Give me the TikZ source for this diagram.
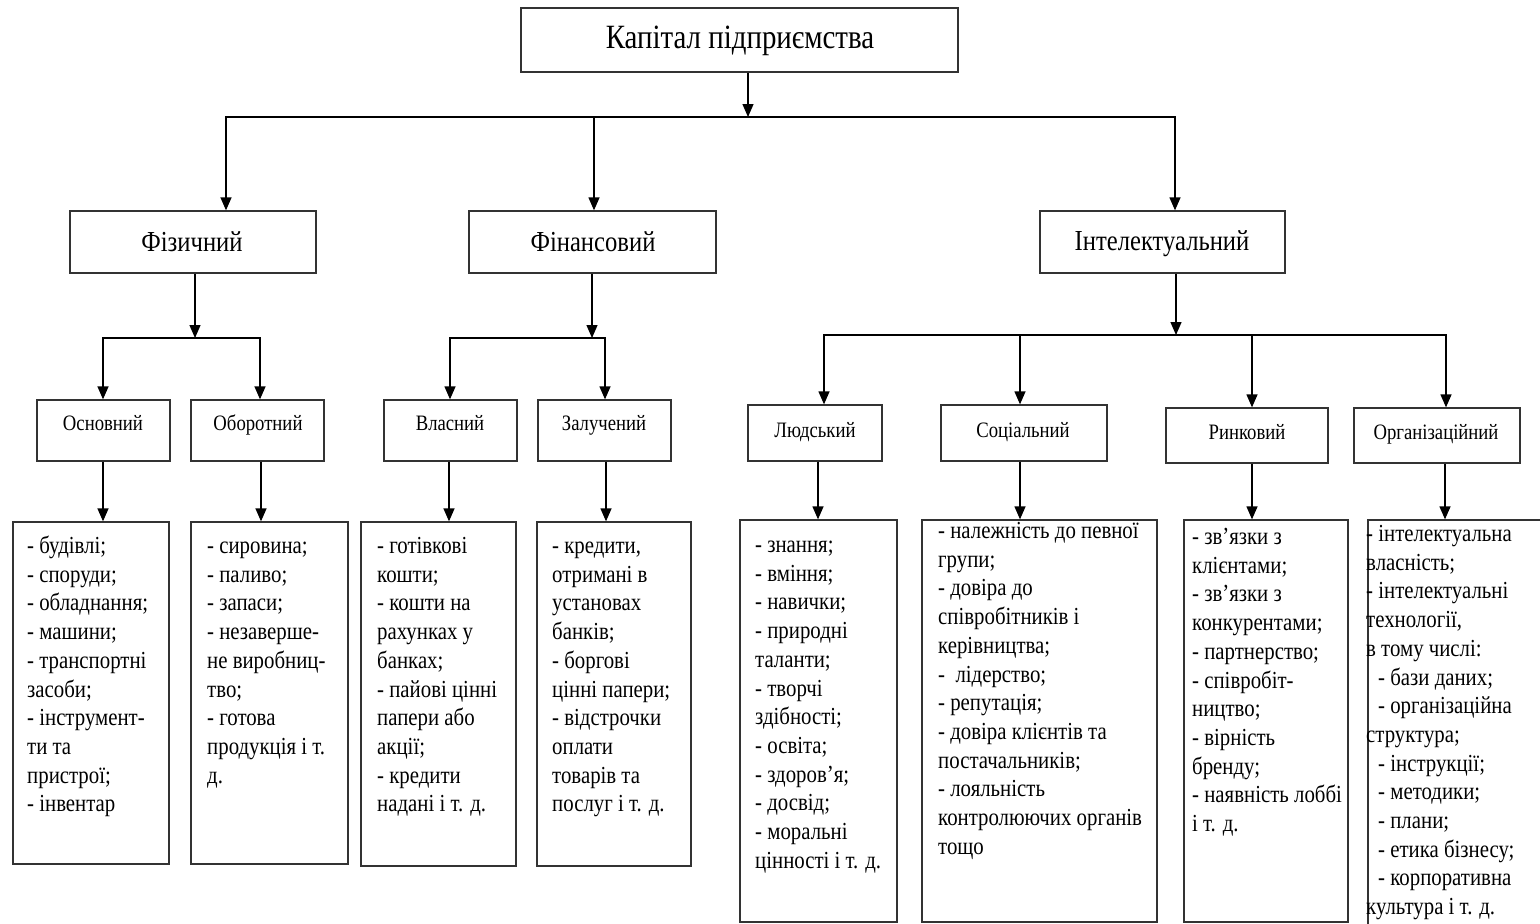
\documentclass[tikz,border=0pt]{standalone}
\usepackage{fontspec}
\setmainfont{Liberation Serif}[FakeStretch=0.85]
\usetikzlibrary{arrows.meta,calc}
\tikzset{
  box/.style={draw=black!80, line width=1.3pt, inner sep=0pt, fill=white},
  arr/.style={draw=black, line width=1.3pt, -{Triangle[length=13pt,width=11pt]}},
  ln/.style={draw=black, line width=1.3pt, line cap=rect},
  ttl/.style={inner sep=0pt, anchor=base, font=\fontsize{34}{40}\selectfont},
  lvtwo/.style={inner sep=0pt, anchor=base, font=\fontsize{29}{34}\selectfont},
  lvthree/.style={inner sep=0pt, anchor=base, font=\fontsize{22}{26}\selectfont},
  body/.style={inner sep=0pt, anchor=base west, font=\fontsize{24.5}{28.7}\selectfont},
}
\newcommand{\bodylines}[1]{\parbox[t]{260pt}{\raggedright #1}}
\begin{document}
\begin{tikzpicture}[x=1pt,y=-1pt]
\useasboundingbox (0,0) rectangle (1540,924);
\clip (0,0) rectangle (1540,924);
\fill[white] (0,0) rectangle (1540,924);

% level 1
\node[box, minimum width=437, minimum height=64] (top) at (739.5,40) {};
\node[ttl] (toptxt) at (740,48) {Капітал підприємства};

% level 2
\node[box, minimum width=246, minimum height=62] (fiz) at (193,242) {};
\node[box, minimum width=247, minimum height=62] (fin) at (592.5,242) {};
\node[box, minimum width=245, minimum height=62] (int) at (1162.5,242) {};
\node[lvtwo] (fiztxt) at (192,251) {Фізичний};
\node[lvtwo] (fintxt) at (593,251) {Фінансовий};
\node[lvtwo] (inttxt) at (1162,250) {Інтелектуальний};

% level 3
\node[box, minimum width=133, minimum height=61] (osn) at (103.5,430.5) {};
\node[box, minimum width=133, minimum height=61] (obo) at (257.5,430.5) {};
\node[box, minimum width=133, minimum height=61] (vla) at (450.5,430.5) {};
\node[box, minimum width=133, minimum height=61] (zal) at (604.5,430.5) {};
\node[box, minimum width=134, minimum height=56] (lyu) at (815,433) {};
\node[box, minimum width=166, minimum height=56] (soc) at (1024,433) {};
\node[box, minimum width=162, minimum height=55] (rin) at (1247,435.5) {};
\node[box, minimum width=166, minimum height=55] (org) at (1437,435.5) {};
\node[lvthree] (osntxt) at (103,430) {Основний};
\node[lvthree] (obotxt) at (258,430) {Оборотний};
\node[lvthree] (vlatxt) at (450,430) {Власний};
\node[lvthree] (zaltxt) at (604,430) {Залучений};
\node[lvthree] (lyutxt) at (815,437) {Людський};
\node[lvthree] (soctxt) at (1023,437) {Соціальний};
\node[lvthree] (rintxt) at (1247,439) {Ринковий};
\node[lvthree] (orgtxt) at (1436,439) {Організаційний};

% level 4 boxes
\node[box, minimum width=156, minimum height=342] (b1) at (91,693) {};
\node[box, minimum width=157, minimum height=342] (b2) at (269.5,693) {};
\node[box, minimum width=155, minimum height=344] (b3) at (438.5,694) {};
\node[box, minimum width=154, minimum height=344] (b4) at (614,694) {};
\node[box, minimum width=157, minimum height=402] (b5) at (818.5,721) {};
\node[box, minimum width=235, minimum height=402] (b6) at (1039.5,721) {};
\node[box, minimum width=164, minimum height=402] (b7) at (1266,721) {};
\node[box, minimum width=182, minimum height=410] (b8) at (1459,725) {};

\node[body] (t1) at (27,553.5) {\bodylines{- будівлі;\\- споруди;\\- обладнання;\\- машини;\\- транспортні\\засоби;\\- інструмент-\\ти та\\пристрої;\\- інвентар}};
\node[body] (t2) at (207,553.5) {\bodylines{- сировина;\\- паливо;\\- запаси;\\- незаверше-\\не виробниц-\\тво;\\- готова\\продукція і т.\\д.}};
\node[body] (t3) at (377,553.5) {\bodylines{- готівкові\\кошти;\\- кошти на\\рахунках у\\банках;\\- пайові цінні\\папери або\\акції;\\- кредити\\надані і т. д.}};
\node[body] (t4) at (552,553.5) {\bodylines{- кредити,\\отримані в\\установах\\банків;\\- боргові\\цінні папери;\\- відстрочки\\оплати\\товарів та\\послуг і т. д.}};
\node[body] (t5) at (755,552.5) {\bodylines{- знання;\\- вміння;\\- навички;\\- природні\\таланти;\\- творчі\\здібності;\\- освіта;\\- здоров’я;\\- досвід;\\- моральні\\цінності і т. д.}};
\node[body] (t6) at (938,538.5) {\bodylines{- належність до певної\\групи;\\- довіра до\\співробітників і\\керівництва;\\-\ \ лідерство;\\- репутація;\\- довіра клієнтів та\\постачальників;\\- лояльність\\контролюючих органів\\тощо}};
\node[body] (t7) at (1192,544.5) {\bodylines{- зв’язки з\\клієнтами;\\- зв’язки з\\конкурентами;\\- партнерство;\\- співробіт-\\ництво;\\- вірність\\бренду;\\- наявність лоббі\\і т. д.}};
\node[body] (t8) at (1366,541.5) {\bodylines{- інтелектуальна\\власність;\\- інтелектуальні\\технології,\\в тому числі:\\\hspace*{12pt}- бази даних;\\\hspace*{12pt}- організаційна\\структура;\\\hspace*{12pt}- інструкції;\\\hspace*{12pt}- методики;\\\hspace*{12pt}- плани;\\\hspace*{12pt}- етика бізнесу;\\\hspace*{12pt}- корпоративна\\культура і т. д.}};

% connectors level 1 -> 2
\coordinate (j0) at (748,117);
\coordinate (j0a) at (226,117);
\coordinate (j0b) at (594,117);
\coordinate (j0c) at (1175,117);
\draw[arr] (top.south -| j0) -- (j0);
\draw[ln] (j0a) -- (j0c);
\draw[arr] (j0a) -- (j0a |- fiz.north);
\draw[arr] (j0b) -- (j0b |- fin.north);
\draw[arr] (j0c) -- (j0c |- int.north);

% Фізичний
\coordinate (j1) at (195,338);
\coordinate (j1a) at (103,338);
\coordinate (j1b) at (260,338);
\draw[arr] (fiz.south -| j1) -- (j1);
\draw[ln] (j1a) -- (j1b);
\draw[arr] (j1a) -- (j1a |- osn.north);
\draw[arr] (j1b) -- (j1b |- obo.north);

% Фінансовий
\coordinate (j2) at (592,338);
\coordinate (j2a) at (450,338);
\coordinate (j2b) at (605,338);
\draw[arr] (fin.south -| j2) -- (j2);
\draw[ln] (j2a) -- (j2b);
\draw[arr] (j2a) -- (j2a |- vla.north);
\draw[arr] (j2b) -- (j2b |- zal.north);

% Інтелектуальний
\coordinate (j3) at (1176,335);
\coordinate (j3a) at (824,335);
\coordinate (j3b) at (1020,335);
\coordinate (j3c) at (1252,335);
\coordinate (j3d) at (1446,335);
\draw[arr] (int.south -| j3) -- (j3);
\draw[ln] (j3a) -- (j3d);
\draw[arr] (j3a) -- (j3a |- lyu.north);
\draw[arr] (j3b) -- (j3b |- soc.north);
\draw[arr] (j3c) -- (j3c |- rin.north);
\draw[arr] (j3d) -- (j3d |- org.north);

% level 3 -> 4
\coordinate (k1) at (103,0);
\coordinate (k2) at (261,0);
\coordinate (k3) at (449,0);
\coordinate (k4) at (606,0);
\coordinate (k5) at (818,0);
\coordinate (k6) at (1020,0);
\coordinate (k7) at (1252,0);
\coordinate (k8) at (1445,0);
\draw[arr] (osn.south -| k1) -- (b1.north -| k1);
\draw[arr] (obo.south -| k2) -- (b2.north -| k2);
\draw[arr] (vla.south -| k3) -- (b3.north -| k3);
\draw[arr] (zal.south -| k4) -- (b4.north -| k4);
\draw[arr] (lyu.south -| k5) -- (b5.north -| k5);
\draw[arr] (soc.south -| k6) -- (b6.north -| k6);
\draw[arr] (rin.south -| k7) -- (b7.north -| k7);
\draw[arr] (org.south -| k8) -- (b8.north -| k8);
\end{tikzpicture}
\end{document}
